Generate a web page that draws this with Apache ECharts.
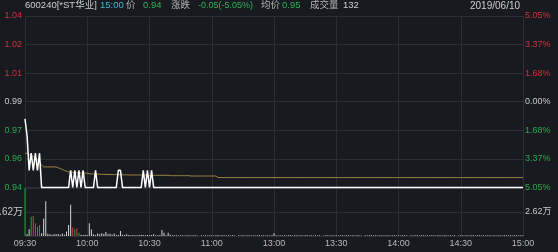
<!DOCTYPE html>
<html>
<head>
<meta charset="utf-8">
<script src="https://cdn.jsdelivr.net/npm/echarts@6/dist/echarts.min.js"></script>
<style>
html,body{margin:0;padding:0;background:#181a1f;}
#c{width:558px;height:252px;}
</style>
</head>
<body>
<div id="c"></div>
<script>
// ---- data ----
const timeLabels = ['09:30','10:00','10:30','11:00','13:00','13:30','14:00','14:30','15:00'];
const priceLeftLabels = ['0.94','0.96','0.97','0.99','1.01','1.02','1.04'];
const priceRightLabels = ['5.05%','3.37%','1.68%','0.00%','1.68%','3.37%','5.05%'];
const volTickLabels = ['', '2.62万', ''];
const preClose = 0.99;

const price = [
 0.98,0.97,0.95,0.96,0.95,0.96,0.95,0.96,0.94,0.94,
 0.94,0.94,0.94,0.94,0.94,0.94,0.94,0.94,0.94,0.94,
 0.94,0.94,0.95,0.94,0.95,0.94,0.95,0.94,0.95,0.94,
 0.94,0.94,0.94,0.94,0.95,0.94,0.94,0.94,0.94,0.94,
 0.94,0.94,0.94,0.94,0.94,0.95,0.95,0.94,0.94,0.94,
 0.94,0.94,0.94,0.94,0.94,0.94,0.94,0.95,0.94,0.95,
 0.94,0.95,0.94,0.94,0.94,0.94,0.94,0.94,0.94,0.94,
 0.94,0.94,0.94,0.94,0.94,0.94,0.94,0.94,0.94,0.94,
 0.94,0.94,0.94,0.94,0.94,0.94,0.94,0.94,0.94,0.94,
 0.94,0.94,0.94,0.94,0.94,0.94,0.94,0.94,0.94,0.94,
 0.94,0.94,0.94,0.94,0.94,0.94,0.94,0.94,0.94,0.94,
 0.94,0.94,0.94,0.94,0.94,0.94,0.94,0.94,0.94,0.94,
 0.94,0.94,0.94,0.94,0.94,0.94,0.94,0.94,0.94,0.94,
 0.94,0.94,0.94,0.94,0.94,0.94,0.94,0.94,0.94,0.94,
 0.94,0.94,0.94,0.94,0.94,0.94,0.94,0.94,0.94,0.94,
 0.94,0.94,0.94,0.94,0.94,0.94,0.94,0.94,0.94,0.94,
 0.94,0.94,0.94,0.94,0.94,0.94,0.94,0.94,0.94,0.94,
 0.94,0.94,0.94,0.94,0.94,0.94,0.94,0.94,0.94,0.94,
 0.94,0.94,0.94,0.94,0.94,0.94,0.94,0.94,0.94,0.94,
 0.94,0.94,0.94,0.94,0.94,0.94,0.94,0.94,0.94,0.94,
 0.94,0.94,0.94,0.94,0.94,0.94,0.94,0.94,0.94,0.94,
 0.94,0.94,0.94,0.94,0.94,0.94,0.94,0.94,0.94,0.94,
 0.94,0.94,0.94,0.94,0.94,0.94,0.94,0.94,0.94,0.94,
 0.94,0.94,0.94,0.94,0.94,0.94,0.94,0.94,0.94,0.94,
 0.94
];

const avgPrice = [
 0.960,0.960,0.959,0.959,0.958,0.957,0.956,0.955,0.953,0.952,
 0.952,0.952,0.952,0.952,0.952,0.952,0.9515,0.951,0.9505,0.950,
 0.9495,0.949,0.949,0.9488,0.9487,0.9486,0.9486,0.9485,0.9485,0.9484,
 0.9483,0.948,0.9479,0.9479,0.9478,0.9478,0.9477,0.9477,0.9477,0.9476,
 0.9476,0.9476,0.9475,0.9475,0.9475,0.9475,0.9474,0.9474,0.9474,0.9474,
 0.9473,0.9473,0.9473,0.9473,0.9473,0.9473,0.9473,0.9473,0.9473,0.9473,
 0.9471,0.9471,0.9471,0.9471,0.9471,0.9471,0.9471,0.9471,0.9471,0.9471,
 0.9469,0.9469,0.9469,0.9469,0.9469,0.9469,0.9469,0.9469,0.9469,0.9469,
 0.9467,0.9467,0.9467,0.9467,0.9467,0.9467,0.9467,0.9467,0.9467,0.9467,
 0.9467,0.9467,0.9467,0.9458,0.9458,0.9458,0.9458,0.9458,0.9458,0.9458,
 0.9458,0.9458,0.9458,0.9458,0.9458,0.9458,0.9458,0.9458,0.9458,0.9458,
 0.9458,0.9458,0.9458,0.9458,0.9458,0.9458,0.9458,0.9458,0.9458,0.9458,
 0.9458,0.9458,0.9458,0.9458,0.9458,0.9458,0.9458,0.9458,0.9458,0.9458,
 0.9458,0.9458,0.9458,0.9458,0.9458,0.9458,0.9458,0.9458,0.9458,0.9458,
 0.9458,0.9458,0.9458,0.9458,0.9458,0.9458,0.9458,0.9458,0.9458,0.9458,
 0.9458,0.9458,0.9458,0.9458,0.9458,0.9458,0.9458,0.9458,0.9458,0.9458,
 0.9458,0.9458,0.9458,0.9458,0.9458,0.9458,0.9458,0.9458,0.9458,0.9458,
 0.9458,0.9458,0.9458,0.9458,0.9458,0.9458,0.9458,0.9458,0.9458,0.9458,
 0.9458,0.9458,0.9458,0.9458,0.9458,0.9458,0.9458,0.9458,0.9458,0.9458,
 0.9458,0.9458,0.9458,0.9458,0.9458,0.9458,0.9458,0.9458,0.9458,0.9458,
 0.9458,0.9458,0.9458,0.9458,0.9458,0.9458,0.9458,0.9458,0.9458,0.9458,
 0.9458,0.9458,0.9458,0.9458,0.9458,0.9458,0.9458,0.9458,0.9458,0.9458,
 0.9458,0.9458,0.9458,0.9458,0.9458,0.9458,0.9458,0.9458,0.9458,0.9458,
 0.9458,0.9458,0.9458,0.9458,0.9458,0.9458,0.9458,0.9458,0.9458,0.9458,
 0.9458
];

const volume = [
 52400,2000,7400,21000,21800,14000,10000,12000,3000,19000,
 38000,2500,1800,1500,1800,2000,2200,1500,2600,1500,
 4800,12000,34000,9500,7400,8500,3600,1500,1200,1500,
 1000,14000,7000,2000,1200,2600,1800,3000,2200,4500,
 2000,2500,1500,2800,1200,1000,5500,1500,1200,1800,
 1000,800,1200,900,700,1000,1500,1100,900,1200,
 800,1000,2000,900,700,1000,6500,3500,900,3500,
 1500,900,700,800,600,800,700,600,900,700,
 600,700,800,600,0,700,600,900,600,700,
 800,600,700,1200,600,700,800,600,700,600,
 700,600,0,800,600,700,600,700,800,600,
 700,600,800,700,600,700,600,800,600,700,
 3000,700,600,800,600,700,600,700,800,600,
 700,800,600,700,600,800,700,600,700,600,
 800,600,700,0,600,700,800,600,700,600,
 700,600,800,700,600,700,900,600,700,600,
 700,800,600,0,700,600,700,800,600,700,
 600,700,800,600,700,900,600,700,800,600,
 700,600,700,800,600,0,700,600,700,800,
 600,700,900,600,700,600,800,700,600,700,
 700,600,800,700,600,700,600,800,0,600,
 700,800,600,700,600,900,700,600,700,800,
 600,700,600,800,700,600,700,600,800,700,
 600,700,800,600,700,600,700,800,600,700,
 800
];

const redBars = [4,5,23,25];
const greenBars = [0,3,6,7,24,26];

// ---- helpers ----
const cats = [];
for (let h = 9, m = 30; cats.length < 121; ) { cats.push(String(h).padStart(2,'0')+':'+String(m).padStart(2,'0')); m++; if (m===60){m=0;h++;} }
for (let h = 13, m = 1; cats.length < 241; ) { cats.push(String(h).padStart(2,'0')+':'+String(m).padStart(2,'0')); m++; if (m===60){m=0;h++;} }

const step = 0.1/6;
const gridColor = '#2b2e35';
const upColor = '#c8353b';
const downColor = '#2ea84e';
const flatColor = '#c8c8c8';
const font = '"Liberation Sans", "Noto Sans CJK SC", sans-serif';

const volData = volume.map((v, i) => ({
  value: v,
  itemStyle: { color: redBars.includes(i) ? '#d83a3a' : (greenBars.includes(i) ? '#22a03c' : '#d6d6d6') }
}));

function levelIdx(v){ return Math.round((v - 0.94) / step); }
function levelColor(v){ const k = levelIdx(v); return k < 3 ? downColor : (k > 3 ? upColor : flatColor); }

const chart = echarts.init(document.getElementById('c'), null, {renderer:'canvas'});

const header = [
  {t:'600240[*ST华业]', x:25, c:'#cfcfcf', s:9.5},
  {t:'15:00', x:100, c:'#3bbcd4', s:9.5},
  {t:'价', x:126, c:'#b4b4b4', s:9.5},
  {t:'0.94', x:143, c:'#2fb35a', s:9.5},
  {t:'涨跌', x:171, c:'#b4b4b4', s:9.5},
  {t:'-0.05(-5.05%)', x:198, c:'#2fb35a', s:9},
  {t:'均价', x:261, c:'#b4b4b4', s:9.5},
  {t:'0.95', x:282, c:'#2fb35a', s:9.5},
  {t:'成交量', x:310, c:'#b4b4b4', s:9.5},
  {t:'132', x:343, c:'#cfcfcf', s:9.5},
  {t:'2019/06/10', x:470, c:'#cfcfcf', s:10}
];

const catAxisBase = {
  type:'category', data:cats, boundaryGap:false,
  axisLine:{show:false}, axisTick:{show:false},
  splitLine:{show:true, interval:(i)=>i%30===0, lineStyle:{color:gridColor, width:1}}
};

chart.setOption({
  backgroundColor:'#181a1f',
  animation:false,
  textStyle:{fontFamily:font},
  graphic: header.map(h => ({
    type:'text', left:h.x, top:1,
    style:{text:h.t, fill:h.c, font:h.s+'px '+font}
  })),
  grid:[
    {left:25, right:35, top:16, height:171.5, outerBoundsMode:'none', containLabel:false},
    {left:25, right:35, top:188, height:48, outerBoundsMode:'none', containLabel:false}
  ],
  xAxis:[
    Object.assign({}, catAxisBase, {gridIndex:0, axisLabel:{show:false}}),
    Object.assign({}, catAxisBase, {gridIndex:1,
      axisLabel:{show:true, interval:(i)=>i%30===0, formatter:(v,i)=>timeLabels[i/30]||'',
        color:'#b8b8b8', fontSize:9, margin:3, fontFamily:font}})
  ],
  yAxis:[
    {type:'value', gridIndex:0, min:0.94, max:1.04, interval:step,
     axisLine:{show:false}, axisTick:{show:false},
     splitLine:{show:true, lineStyle:{color:gridColor}},
     axisLabel:{fontSize:9, margin:3, fontFamily:font,
       formatter:(v)=>priceLeftLabels[levelIdx(v)], color:(v)=>levelColor(v)}},
    {type:'value', gridIndex:0, position:'right', min:0.94, max:1.04, interval:step,
     axisLine:{show:false}, axisTick:{show:false}, splitLine:{show:false},
     axisLabel:{fontSize:9, margin:2, fontFamily:font,
       formatter:(v)=>priceRightLabels[levelIdx(v)], color:(v)=>levelColor(v)}},
    {type:'value', gridIndex:1, min:0, max:52400, interval:26200,
     axisLine:{show:false}, axisTick:{show:false},
     splitLine:{show:true, lineStyle:{color:gridColor}},
     axisLabel:{fontSize:10, margin:2, color:'#c8c8c8', fontFamily:font,
       formatter:(v)=>volTickLabels[Math.round(v/26200)]}},
    {type:'value', gridIndex:1, position:'right', min:0, max:52400, interval:26200,
     axisLine:{show:false}, axisTick:{show:false}, splitLine:{show:false},
     axisLabel:{fontSize:9, margin:2, color:'#c8c8c8', fontFamily:font,
       formatter:(v)=>volTickLabels[Math.round(v/26200)]}}
  ],
  series:[
    {type:'line', name:'均价', xAxisIndex:0, yAxisIndex:0, data:avgPrice, showSymbol:false,
     clip:false, lineStyle:{color:'#9a8441', width:1}, z:2},
    {type:'line', name:'价', xAxisIndex:0, yAxisIndex:0, data:price, showSymbol:false,
     clip:false, lineStyle:{color:'#ffffff', width:1.5}, z:3},
    {type:'bar', name:'成交量', xAxisIndex:1, yAxisIndex:2, data:volData, barWidth:1, z:2}
  ]
});
</script>
</body>
</html>
